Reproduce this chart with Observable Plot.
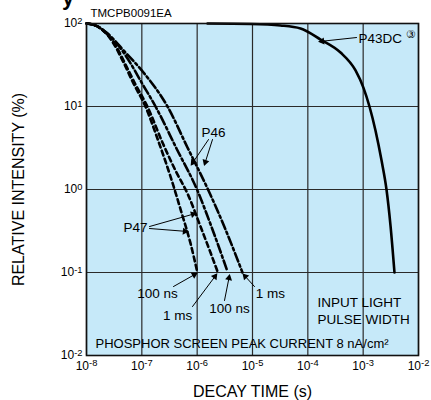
<!DOCTYPE html>
<html><head><meta charset="utf-8">
<script src="https://cdn.jsdelivr.net/npm/d3@7"></script>
<script src="https://cdn.jsdelivr.net/npm/@observablehq/plot@0.6"></script>
<style>
body{margin:0;background:#fff;font-family:"Liberation Sans",Arial,sans-serif;}
#wrap{position:relative;width:431px;height:400px;overflow:hidden}
#title{position:absolute;left:62px;top:-15px;font:bold 22px "Liberation Sans",Arial,sans-serif;color:#000}
</style></head><body><div id="wrap"><div id="title">y</div><div id="chart"></div></div>
<script>
// ---- axis ticks ----
const xTicks = [1e-8, 1e-7, 1e-6, 1e-5, 1e-4, 1e-3, 1e-2];
const yTicks = [1e-2, 1e-1, 1, 10, 100];

// ---- series (time in s, relative intensity in %) ----
const p47_100ns_t = [1e-8,1.46e-8,2.20e-8,3.08e-8,4.67e-8,7.07e-8,1.16e-7,2.0e-7,3.30e-7,5.21e-7,7.59e-7,1.01e-6];
const p47_100ns_v = [100,94.6,77.9,57.4,33.9,18.9,10,3.79,1.43,0.528,0.224,0.1];
const p47_1ms_t = [1e-8,1.46e-8,2.20e-8,3.21e-8,4.86e-8,7.69e-8,1.26e-7,2.36e-7,4.06e-7,6.68e-7,1.15e-6,1.74e-6,2.33e-6];
const p47_1ms_v = [100,94.6,77.9,57.4,33.9,18.4,10,3.68,1.69,0.895,0.358,0.174,0.103];
const p46_100ns_t = [1e-8,1.46e-8,2.20e-8,3.63e-8,5.98e-8,9.86e-8,1.77e-7,4.23e-7,1.01e-6,1.89e-6,3.53e-6];
const p46_100ns_v = [100,94.6,77.9,55.9,34.8,19.5,10,3.12,0.973,0.330,0.103];
const p46_1ms_t = [1e-8,1.46e-8,2.30e-8,4.86e-8,1.07e-7,2.91e-7,6.68e-7,1.60e-6,3.25e-6,6.59e-6];
const p46_1ms_v = [100,94.6,77.9,46.0,25.7,10,3.21,0.973,0.330,0.1];
const p43dc_t = [1.54e-6,9.20e-6,3.21e-5,7.38e-5,1.70e-4,3.90e-4,7.28e-4,1.01e-3,1.30e-3,1.67e-3,2.15e-3,2.64e-3,3.12e-3,3.68e-3];
const p43dc_v = [100,98.6,94.6,87.1,64.1,44.7,27.2,16.9,10,5.14,2.23,1,0.368,0.1];

// ---- annotation labels (log10 time, log10 intensity) ----
const labelText = ["P43DC", "P46", "P47", "100 ns", "1 ms", "100 ns", "1 ms"];
const labelLogX = [-3.084, -5.705, -7.114, -6.717, -6.355, -5.416, -4.675];
const labelLogY = [1.819, 0.687, -0.458, -1.253, -1.518, -1.434, -1.253];
const labelAnchor = ["start", "middle", "middle", "middle", "middle", "middle", "middle"];

// ---- annotation arrows (log10 coords: from -> to) ----
const arrowX1 = [-3.120, -5.795, -5.723, -6.861, -6.861, -6.428, -6.084, -5.506, -4.964];
const arrowY1 = [1.831, 0.602, 0.602, -0.446, -0.470, -1.169, -1.410, -1.337, -1.169];
const arrowX2 = [-3.789, -6.102, -5.867, -6.030, -6.175, -6.012, -5.651, -5.416, -5.163];
const arrowY2 = [1.783, 0.301, 0.301, -0.289, -0.506, -1.012, -1.024, -1.036, -1.024];

const toRows = (t, v) => t.map((d, i) => ({t: d, v: v[i]}));
const labels = labelText.map((s, i) => ({s, x: 10 ** labelLogX[i], y: 10 ** labelLogY[i], a: labelAnchor[i]}));
const arrows = arrowX1.map((d, i) => ({x1: 10 ** d, y1: 10 ** arrowY1[i], x2: 10 ** arrowX2[i], y2: 10 ** arrowY2[i]}));
// filled arrow heads: direction in screen space (px per decade: x 55.33, y 83)
const heads = arrowX1.map((d, i) => {
  const ux = (arrowX2[i] - d) * 55.33, uy = -(arrowY2[i] - arrowY1[i]) * 83;
  const n = Math.hypot(ux, uy), back = 2.6;
  return {
    x: 10 ** (arrowX2[i] - back * ux / n / 55.33),
    y: 10 ** (arrowY2[i] + back * uy / n / 83),
    r: Math.atan2(ux, -uy) * 180 / Math.PI
  };
});
const expFmt = d => "10^" + Math.round(Math.log10(d));

const lineOpts = {x: "t", y: "v", stroke: "#000", strokeWidth: 2.6, curve: "monotone-x"};
const dash47 = "5,3.5";
const dash46 = "9,3,2.5,3";

const plot = Plot.plot({
  width: 431, height: 400,
  marginLeft: 86, marginRight: 13, marginTop: 23, marginBottom: 45,
  x: {type: "log", domain: [1e-8, 1e-2], ticks: xTicks, tickFormat: expFmt, tickSize: 0, tickPadding: 6, label: null},
  y: {type: "log", domain: [1e-2, 100], ticks: yTicks, tickFormat: expFmt, tickSize: 0, tickPadding: 4, label: null},
  style: {fontFamily: "'Liberation Sans', Arial, sans-serif", fontSize: "12px", background: "transparent", color: "#000", overflow: "visible"},
  marks: [
    Plot.frame({fill: "#c6e9f9"}),
    Plot.ruleX(xTicks, {stroke: "#2a2a2a", strokeWidth: 1.2}),
    Plot.ruleY(yTicks, {stroke: "#2a2a2a", strokeWidth: 1.2}),
    Plot.line(toRows(p47_100ns_t, p47_100ns_v), {...lineOpts, strokeDasharray: dash47}),
    Plot.line(toRows(p47_1ms_t, p47_1ms_v), {...lineOpts, strokeDasharray: dash47}),
    Plot.line(toRows(p46_100ns_t, p46_100ns_v), {...lineOpts, strokeDasharray: dash46}),
    Plot.line(toRows(p46_1ms_t, p46_1ms_v), {...lineOpts, strokeDasharray: dash46}),
    Plot.line(toRows(p43dc_t, p43dc_v), {...lineOpts, strokeWidth: 2.6}),
    Plot.frame({stroke: "#111", strokeWidth: 1.6}),
    Plot.arrow(arrows, {x1: "x1", y1: "y1", x2: "x2", y2: "y2", stroke: "#000", strokeWidth: 1, headLength: 5, headAngle: 40}),
    Plot.dot(heads, {x: "x", y: "y", rotate: "r", symbol: "triangle", r: 2.6, fill: "#000", stroke: "none"}),
    Plot.text(labels.filter(d => d.a === "start"), {x: "x", y: "y", text: "s", textAnchor: "start", fontSize: 13.5, fill: "#000"}),
    Plot.text(labels.filter(d => d.a === "middle"), {x: "x", y: "y", text: "s", textAnchor: "middle", fontSize: 13.5, fill: "#000"}),
    Plot.text(["③"], {x: 10 ** -2.217, y: 10 ** 1.867, fontSize: 11, textAnchor: "start", fill: "#000"}),
    Plot.text(["INPUT LIGHT\nPULSE WIDTH"], {x: 10 ** -3.825, y: 10 ** -1.452, textAnchor: "start", lineHeight: 1.3, fontSize: 13.5, fill: "#000"}),
    Plot.text(["PHOSPHOR SCREEN PEAK CURRENT 8 nA/cm²"], {frameAnchor: "bottom-left", dx: 9, dy: -8, textAnchor: "start", fontSize: 13, fill: "#000"}),
    Plot.text(["TMCPB0091EA"], {frameAnchor: "top-left", dx: 4, dy: -15, textAnchor: "start", fontSize: 11.5, fill: "#000"}),
    Plot.text(["RELATIVE INTENSITY (%)"], {x: 10 ** -9.23, y: 1, rotate: -90, textAnchor: "middle", fontSize: 16, fill: "#000"}),
    Plot.text(["DECAY TIME (s)"], {frameAnchor: "bottom", dy: 41, fontSize: 16, fill: "#000"})
  ]
});

// render exponents as superscripts
plot.querySelectorAll("text").forEach(t => {
  const m = /^10\^(-?\d+)$/.exec(t.textContent);
  if (!m) return;
  t.textContent = "";
  const ns = "http://www.w3.org/2000/svg";
  const a = document.createElementNS(ns, "tspan"); a.textContent = "10";
  const b = document.createElementNS(ns, "tspan"); b.textContent = m[1];
  b.setAttribute("dy", "-0.4em"); b.setAttribute("font-size", "0.78em");
  t.appendChild(a); t.appendChild(b);
});
document.getElementById("chart").appendChild(plot);
</script></body></html>
